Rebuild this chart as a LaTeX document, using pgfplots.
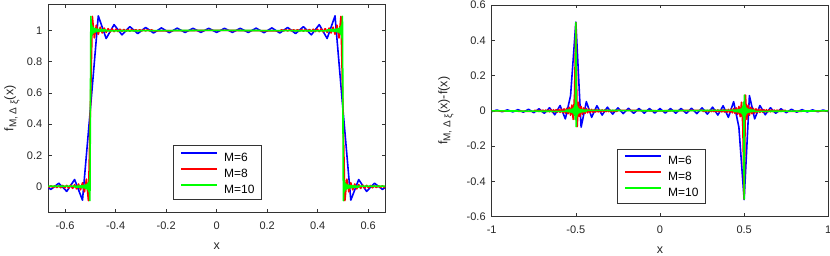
\documentclass[border=0pt]{standalone}
\usepackage{fontspec}
\setmainfont{Liberation Sans}
\usepackage{pgfplots}
\pgfplotsset{compat=1.18}
\usepackage{pgfplotstable}

% M=6 : x, f_M (left panel), error (right panel)
\pgfplotstableread{
x yl ye
-1 0.0042 -0.0042
-0.96875 -0.0046 0.0046
-0.9375 0.0050 -0.0050
-0.90625 -0.0055 0.0055
-0.875 0.0061 -0.0061
-0.84375 -0.0068 0.0068
-0.8125 0.0077 -0.0077
-0.78125 -0.0088 0.0088
-0.75 0.0101 -0.0101
-0.71875 -0.0118 0.0118
-0.6875 0.0141 -0.0141
-0.65625 -0.0174 0.0174
-0.625 0.0222 -0.0222
-0.59375 -0.0302 0.0302
-0.5625 0.0456 -0.0456
-0.53125 -0.0864 0.0864
-0.5 0.4968 0.5032
-0.46875 1.0928 -0.0928
-0.4375 0.9480 0.0520
-0.40625 1.0366 -0.0366
-0.375 0.9713 0.0287
-0.34375 1.0239 -0.0239
-0.3125 0.9793 0.0207
-0.28125 1.0185 -0.0185
-0.25 0.9831 0.0169
-0.21875 1.0156 -0.0156
-0.1875 0.9853 0.0147
-0.15625 1.0140 -0.0140
-0.125 0.9865 0.0135
-0.09375 1.0131 -0.0131
-0.0625 0.9871 0.0129
-0.03125 1.0127 -0.0127
0 0.9873 0.0127
0.03125 1.0127 -0.0127
0.0625 0.9871 0.0129
0.09375 1.0131 -0.0131
0.125 0.9865 0.0135
0.15625 1.0140 -0.0140
0.1875 0.9853 0.0147
0.21875 1.0156 -0.0156
0.25 0.9831 0.0169
0.28125 1.0185 -0.0185
0.3125 0.9793 0.0207
0.34375 1.0239 -0.0239
0.375 0.9713 0.0287
0.40625 1.0366 -0.0366
0.4375 0.9480 0.0520
0.46875 1.0928 -0.0928
0.5 0.4968 -0.5032
0.53125 -0.0864 0.0864
0.5625 0.0456 -0.0456
0.59375 -0.0302 0.0302
0.625 0.0222 -0.0222
0.65625 -0.0174 0.0174
0.6875 0.0141 -0.0141
0.71875 -0.0118 0.0118
0.75 0.0101 -0.0101
0.78125 -0.0088 0.0088
0.8125 0.0077 -0.0077
0.84375 -0.0068 0.0068
0.875 0.0061 -0.0061
0.90625 -0.0055 0.0055
0.9375 0.0050 -0.0050
0.96875 -0.0046 0.0046
1 0.0042 -0.0042
}\blueM

% M=8 (xr) and M=10 (xg) share the same values near each jump
\pgfplotstableread{
xr xg yl ye
-1 -1 0 0
-0.75 -0.5625 0.0032 -0.0032
-0.74219 -0.56055 -0.0033 0.0033
-0.73438 -0.55859 0.0034 -0.0034
-0.72656 -0.55664 -0.0035 0.0035
-0.71875 -0.55469 0.0036 -0.0036
-0.71094 -0.55273 -0.0038 0.0038
-0.70313 -0.55078 0.0039 -0.0039
-0.69531 -0.54883 -0.0041 0.0041
-0.6875 -0.54688 0.0042 -0.0042
-0.67969 -0.54492 -0.0044 0.0044
-0.67188 -0.54297 0.0046 -0.0046
-0.66406 -0.54102 -0.0048 0.0048
-0.65625 -0.53906 0.0051 -0.0051
-0.64844 -0.53711 -0.0053 0.0053
-0.64063 -0.53516 0.0056 -0.0056
-0.63281 -0.5332 -0.0060 0.0060
-0.625 -0.53125 0.0063 -0.0063
-0.61719 -0.5293 -0.0068 0.0068
-0.60938 -0.52734 0.0072 -0.0072
-0.60156 -0.52539 -0.0078 0.0078
-0.59375 -0.52344 0.0084 -0.0084
-0.58594 -0.52148 -0.0092 0.0092
-0.57813 -0.51953 0.0101 -0.0101
-0.57031 -0.51758 -0.0112 0.0112
-0.5625 -0.51563 0.0126 -0.0126
-0.55469 -0.51367 -0.0144 0.0144
-0.54688 -0.51172 0.0168 -0.0168
-0.53906 -0.50977 -0.0201 0.0201
-0.53125 -0.50781 0.0250 -0.0250
-0.52344 -0.50586 -0.0331 0.0331
-0.51563 -0.50391 0.0486 -0.0486
-0.50781 -0.50195 -0.0895 0.0895
-0.5 -0.5 0.5 0.5
-0.49219 -0.49805 1.0895 -0.0895
-0.48438 -0.49609 0.9514 0.0486
-0.47656 -0.49414 1.0331 -0.0331
-0.46875 -0.49219 0.9750 0.0250
-0.46094 -0.49023 1.0201 -0.0201
-0.45313 -0.48828 0.9832 0.0168
-0.44531 -0.48633 1.0144 -0.0144
-0.4375 -0.48438 0.9874 0.0126
-0.42969 -0.48242 1.0112 -0.0112
-0.42188 -0.48047 0.9899 0.0101
-0.41406 -0.47852 1.0092 -0.0092
-0.40625 -0.47656 0.9916 0.0084
-0.39844 -0.47461 1.0078 -0.0078
-0.39063 -0.47266 0.9928 0.0072
-0.38281 -0.4707 1.0068 -0.0068
-0.375 -0.46875 0.9937 0.0063
-0.36719 -0.4668 1.0060 -0.0060
-0.35938 -0.46484 0.9944 0.0056
-0.35156 -0.46289 1.0053 -0.0053
-0.34375 -0.46094 0.9949 0.0051
-0.33594 -0.45898 1.0048 -0.0048
-0.32813 -0.45703 0.9954 0.0046
-0.32031 -0.45508 1.0044 -0.0044
-0.3125 -0.45313 0.9958 0.0042
-0.30469 -0.45117 1.0041 -0.0041
-0.29688 -0.44922 0.9961 0.0039
-0.28906 -0.44727 1.0038 -0.0038
-0.28125 -0.44531 0.9964 0.0036
-0.27344 -0.44336 1.0035 -0.0035
-0.26563 -0.44141 0.9966 0.0034
-0.25781 -0.43945 1.0033 -0.0033
-0.25 -0.4375 0.9968 0.0032
0 0 1 0
0.25 0.4375 0.9968 0.0032
0.25781 0.43945 1.0033 -0.0033
0.26563 0.44141 0.9966 0.0034
0.27344 0.44336 1.0035 -0.0035
0.28125 0.44531 0.9964 0.0036
0.28906 0.44727 1.0038 -0.0038
0.29688 0.44922 0.9961 0.0039
0.30469 0.45117 1.0041 -0.0041
0.3125 0.45313 0.9958 0.0042
0.32031 0.45508 1.0044 -0.0044
0.32813 0.45703 0.9954 0.0046
0.33594 0.45898 1.0048 -0.0048
0.34375 0.46094 0.9949 0.0051
0.35156 0.46289 1.0053 -0.0053
0.35938 0.46484 0.9944 0.0056
0.36719 0.4668 1.0060 -0.0060
0.375 0.46875 0.9937 0.0063
0.38281 0.4707 1.0068 -0.0068
0.39063 0.47266 0.9928 0.0072
0.39844 0.47461 1.0078 -0.0078
0.40625 0.47656 0.9916 0.0084
0.41406 0.47852 1.0092 -0.0092
0.42188 0.48047 0.9899 0.0101
0.42969 0.48242 1.0112 -0.0112
0.4375 0.48438 0.9874 0.0126
0.44531 0.48633 1.0144 -0.0144
0.45313 0.48828 0.9832 0.0168
0.46094 0.49023 1.0201 -0.0201
0.46875 0.49219 0.9750 0.0250
0.47656 0.49414 1.0331 -0.0331
0.48438 0.49609 0.9514 0.0486
0.49219 0.49805 1.0895 -0.0895
0.5 0.5 0.5 -0.5
0.50781 0.50195 -0.0895 0.0895
0.51563 0.50391 0.0486 -0.0486
0.52344 0.50586 -0.0331 0.0331
0.53125 0.50781 0.0250 -0.0250
0.53906 0.50977 -0.0201 0.0201
0.54688 0.51172 0.0168 -0.0168
0.55469 0.51367 -0.0144 0.0144
0.5625 0.51563 0.0126 -0.0126
0.57031 0.51758 -0.0112 0.0112
0.57813 0.51953 0.0101 -0.0101
0.58594 0.52148 -0.0092 0.0092
0.59375 0.52344 0.0084 -0.0084
0.60156 0.52539 -0.0078 0.0078
0.60938 0.52734 0.0072 -0.0072
0.61719 0.5293 -0.0068 0.0068
0.625 0.53125 0.0063 -0.0063
0.63281 0.5332 -0.0060 0.0060
0.64063 0.53516 0.0056 -0.0056
0.64844 0.53711 -0.0053 0.0053
0.65625 0.53906 0.0051 -0.0051
0.66406 0.54102 -0.0048 0.0048
0.67188 0.54297 0.0046 -0.0046
0.67969 0.54492 -0.0044 0.0044
0.6875 0.54688 0.0042 -0.0042
0.69531 0.54883 -0.0041 0.0041
0.70313 0.55078 0.0039 -0.0039
0.71094 0.55273 -0.0038 0.0038
0.71875 0.55469 0.0036 -0.0036
0.72656 0.55664 -0.0035 0.0035
0.73438 0.55859 0.0034 -0.0034
0.74219 0.56055 -0.0033 0.0033
0.75 0.5625 0.0032 -0.0032
1 1 0 0
}\fineM

\newcommand{\flab}{f{\fontsize{10}{11}\selectfont\raisebox{-3pt}{M, Δ }\raisebox{-4.5pt}{ξ}}(x)}

\begin{document}
\begin{tikzpicture}
\pgfplotsset{
  mat/.style={
    scale only axis,
    axis line style={draw=black!80, line width=0.5pt},
    every tick/.style={draw=black!80, line width=0.5pt},
    tick align=inside,
    major tick length=3.5pt,
    /pgf/number format/assume math mode=true,
    tick label style={font=\fontsize{11}{13}\selectfont, text=black!85},
    xticklabel style={yshift=-6pt},
    yticklabel style={xshift=-2.5pt},
    label style={font=\fontsize{12.5}{14}\selectfont, text=black!85},
    legend cell align=left,
    legend style={draw=black!80, fill=white, line width=0.5pt,
      font=\fontsize{12}{14}\selectfont,
      inner xsep=6.7pt, inner ysep=6.2pt, row sep=6.4pt,
      nodes={inner sep=0pt, text height=8.6pt, text depth=0pt},
      /tikz/every odd column/.append style={column sep=6pt},
      anchor=south west},
    legend image code/.code={\draw[line width=2pt] (0pt,4.3pt) -- (36pt,4.3pt);},
    every axis plot/.append style={line width=1.6pt, line join=round},
  }
}
\begin{axis}[mat,
  name=L,
  at={(0pt,0pt)}, anchor=south west,
  width=336.7pt, height=208.4pt,
  xmin=-0.66667, xmax=0.66667, ymin=-0.16667, ymax=1.16667,
  xtick={-0.6,-0.4,-0.2,0,0.2,0.4,0.6},
  ytick={0,0.2,0.4,0.6,0.8,1},
  xlabel={x},
  ylabel={\flab},
  xlabel style={at={(axis description cs:0.5,-0.163)}, anchor=center},
  ylabel style={at={(axis description cs:-0.108,0.5)}, anchor=center},
  legend style={at={(0.371,0.061)}},
]
\addplot[draw=blue] table[x=x, y=yl] {\blueM};
\addplot[draw=red] table[x=xr, y=yl] {\fineM};
\addplot[draw=green] table[x=xg, y=yl] {\fineM};
\legend{M=6, M=8, M=10}
\end{axis}

\begin{axis}[mat,
  at={(443.4pt,-4pt)}, anchor=south west,
  width=336.6pt, height=211.7pt,
  xmin=-1, xmax=1, ymin=-0.6, ymax=0.6,
  xtick={-1,-0.5,0,0.5,1},
  ytick={-0.6,-0.4,-0.2,0,0.2,0.4,0.6},
  xlabel={x},
  ylabel={\flab-f(x)},
  xlabel style={at={(axis description cs:0.5,-0.157)}, anchor=center},
  ylabel style={at={(axis description cs:-0.136,0.5)}, anchor=center},
  legend style={at={(0.373,0.063)}},
]
\addplot[draw=blue] table[x=x, y=ye] {\blueM};
\addplot[draw=red] table[x=xr, y=ye] {\fineM};
\addplot[draw=green] table[x=xg, y=ye] {\fineM};
\legend{M=6, M=8, M=10}
\end{axis}
\pgfresetboundingbox
\path (-48.3pt,-42.3pt) rectangle (781.7pt,212.7pt);
\end{tikzpicture}
\end{document}
